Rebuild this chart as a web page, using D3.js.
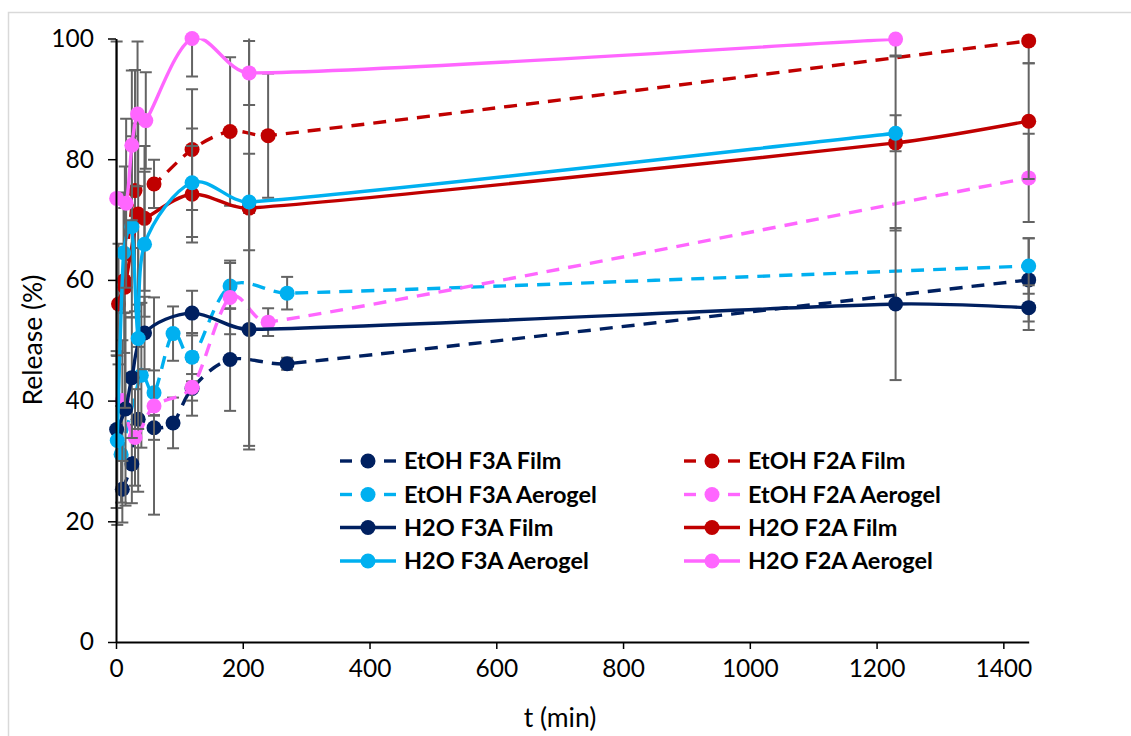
<!DOCTYPE html>
<html>
<head>
<meta charset="utf-8">
<script src="https://cdn.jsdelivr.net/npm/d3@7"></script>
<style>
  body { margin: 0; background: #fff; }
  text { font-family: Lato, "Open Sans", sans-serif; }
</style>
</head>
<body>
<div id="chart"></div>
<script>
"use strict"

// release data, t in minutes, values in %
const tEtohF3aFilm = [10, 25, 35, 60, 90, 120, 180, 270, 1440];
const vEtohF3aFilm = [25.3, 29.5, 36.9, 35.5, 36.3, 42.0, 46.8, 46.1, 60.0];
const eEtohF3aFilm = [5.5, 6.5, 12, 2, 4.2, 4.5, 8.5, 1, 6.9];

const tEtohF2aFilm = [4, 13, 30, 60, 120, 180, 240, 1440];
const vEtohF2aFilm = [56.0, 59.9, 74.8, 75.9, 81.6, 84.6, 83.9, 99.6];
const eEtohF2aFilm = [10, 12, 20, 4, 10, 12.3, 10.3, 3.7];

const tEtohF3aAero = [8, 40, 60, 90, 120, 180, 270, 1440];
const vEtohF3aAero = [31.1, 44.2, 41.3, 51.1, 47.2, 59.0, 57.8, 62.3];
const eEtohF3aAero = [8, 12, 3.7, 4.5, 4, 3.8, 2.7, 4.6];

const tEtohF2aAero = [10, 30, 60, 120, 180, 240, 1440];
const vEtohF2aAero = [40.0, 33.9, 39.1, 42.2, 57.1, 53.0, 76.9];
const eEtohF2aAero = [10, 8, 18, 2.2, 6.1, 2.3, 7.3];

const tH2oF3aFilm = [1, 15, 25, 45, 120, 210, 1230, 1440];
const vH2oF3aFilm = [35.2, 38.6, 43.8, 51.2, 54.5, 51.8, 56.0, 55.4];
const eH2oF3aFilm = [13, 16, 10, 6, 3.7, 19.3, 12.6, 3.7];

const tH2oF2aFilm = [14, 35, 45, 120, 210, 1230, 1440];
const vH2oF2aFilm = [58.8, 70.9, 70.2, 74.2, 71.9, 82.7, 86.3];
const eH2oF2aFilm = [20, 15, 12, 8, 40, 14.5, 9.6];

const tH2oF3aAero = [2, 12, 25, 35, 45, 120, 210, 1230];
const vH2oF3aAero = [33.4, 64.5, 68.8, 50.3, 65.9, 76.1, 72.9, 84.3];
const eH2oF3aAero = [14, 10, 15, 15, 12, 9, 8, 3];

const tH2oF2aAero = [1, 16, 25, 34, 47, 120, 210, 1230];
const vH2oF2aAero = [73.5, 72.7, 82.3, 87.5, 86.4, 100, 94.3, 99.9];
const eH2oF2aAero = [26, 14, 12.4, 12, 8, 6.3, 5.3, 2.9];

const seriesNames = ["EtOH F3A Film", "EtOH F2A Film", "EtOH F3A Aerogel", "EtOH F2A Aerogel",
                     "H2O F3A Film", "H2O F2A Film", "H2O F3A Aerogel", "H2O F2A Aerogel"];
const xTicks = [0, 200, 400, 600, 800, 1000, 1200, 1400];
const yTicks = [0, 20, 40, 60, 80, 100];

const colorByName = new Map([
  ["EtOH F3A Film", "#002060"],
  ["EtOH F2A Film", "#C00000"],
  ["EtOH F3A Aerogel", "#00B0F0"],
  ["EtOH F2A Aerogel", "#FF66FF"],
  ["H2O F3A Film", "#002060"],
  ["H2O F2A Film", "#C00000"],
  ["H2O F3A Aerogel", "#00B0F0"],
  ["H2O F2A Aerogel", "#FF66FF"]
]);

const seriesData = [
  [tEtohF3aFilm, vEtohF3aFilm, eEtohF3aFilm],
  [tEtohF2aFilm, vEtohF2aFilm, eEtohF2aFilm],
  [tEtohF3aAero, vEtohF3aAero, eEtohF3aAero],
  [tEtohF2aAero, vEtohF2aAero, eEtohF2aAero],
  [tH2oF3aFilm, vH2oF3aFilm, eH2oF3aFilm],
  [tH2oF2aFilm, vH2oF2aFilm, eH2oF2aFilm],
  [tH2oF3aAero, vH2oF3aAero, eH2oF3aAero],
  [tH2oF2aAero, vH2oF2aAero, eH2oF2aAero]
];

let series = seriesNames.map(function(name, i) {
  let [ts, vs, es] = seriesData[i];
  return {
    name: name,
    color: colorByName.get(name),
    dashed: name.startsWith("EtOH"),
    points: ts.map((t, j) => ({t: t, v: vs[j], e: es[j]}))
  };
});

let width = 1131, height = 736;
let plot = {left: 116, right: 1028.7, top: 38.5, bottom: 642};

let svg = d3.select("#chart")
  .append("svg")
  .attr("width", width)
  .attr("height", height);

// chart area frame
svg.append("rect")
  .attr("x", 8.5).attr("y", 12.5)
  .attr("width", 1200).attr("height", 800)
  .attr("fill", "none")
  .attr("stroke", "#d9d9d9")
  .attr("stroke-width", 1.5);

let x = d3.scaleLinear().domain([0, 1440]).range([plot.left, plot.right]);
let y = d3.scaleLinear().domain([0, 100]).range([plot.bottom, plot.top]);

svg.append("clipPath")
  .attr("id", "plotClip")
  .append("rect")
  .attr("x", plot.left - 20).attr("y", plot.top)
  .attr("width", plot.right - plot.left + 40)
  .attr("height", plot.bottom - plot.top);

// excel-like smoothed line: catmull-rom tangents, shortened on short segments
function smoothPath(points) {
  let p = points.map(d => [x(d.t), y(d.v)]);
  let n = p.length;
  let tan = p.map(function(pt, i) {
    let a = p[Math.max(i - 1, 0)], b = p[Math.min(i + 1, n - 1)];
    return [(b[0] - a[0]) / 6, (b[1] - a[1]) / 6];
  });
  let clamp = function(v, maxLen) {
    let len = Math.hypot(v[0], v[1]);
    if (len <= maxLen || len === 0) return v;
    return [v[0] * maxLen / len, v[1] * maxLen / len];
  };
  let path = d3.path();
  path.moveTo(p[0][0], p[0][1]);
  for (let i = 0; i < n - 1; i++) {
    let seg = Math.hypot(p[i + 1][0] - p[i][0], p[i + 1][1] - p[i][1]);
    let t1 = clamp(tan[i], seg / 3), t2 = clamp(tan[i + 1], seg / 3);
    path.bezierCurveTo(p[i][0] + t1[0], p[i][1] + t1[1],
                       p[i + 1][0] - t2[0], p[i + 1][1] - t2[1],
                       p[i + 1][0], p[i + 1][1]);
  }
  return path.toString();
}

series.forEach(function(s) {
  let g = svg.append("g");
  let clipped = g.append("g").attr("clip-path", "url(#plotClip)");

  let bars = clipped.selectAll(".err")
    .data(s.points.filter(p => p.e > 0))
    .enter().append("g")
    .attr("stroke", "#646464")
    .attr("stroke-width", 2);
  bars.append("line")
    .attr("x1", d => x(d.t)).attr("x2", d => x(d.t))
    .attr("y1", d => y(d.v + d.e)).attr("y2", d => y(d.v - d.e));
  bars.append("line")
    .attr("x1", d => x(d.t) - 6).attr("x2", d => x(d.t) + 6)
    .attr("y1", d => y(d.v + d.e)).attr("y2", d => y(d.v + d.e));
  bars.append("line")
    .attr("x1", d => x(d.t) - 6).attr("x2", d => x(d.t) + 6)
    .attr("y1", d => y(d.v - d.e)).attr("y2", d => y(d.v - d.e));

  clipped.append("path")
    .attr("d", smoothPath(s.points))
    .attr("fill", "none")
    .attr("stroke", s.color)
    .attr("stroke-width", 3.4)
    .attr("stroke-dasharray", s.dashed ? "13,9" : null);

  g.selectAll("circle")
    .data(s.points)
    .enter().append("circle")
    .attr("cx", d => x(d.t))
    .attr("cy", d => y(d.v))
    .attr("r", 7.5)
    .attr("fill", s.color);
});

// axes
let xAxis = svg.append("g")
  .attr("transform", "translate(0," + plot.bottom + ")")
  .call(d3.axisBottom(x).tickValues(xTicks).tickFormat(d3.format("d")).tickSizeInner(7).tickSizeOuter(0).tickPadding(11));
let yAxis = svg.append("g")
  .attr("transform", "translate(" + plot.left + ",0)")
  .call(d3.axisLeft(y).tickValues(yTicks).tickSizeInner(8).tickSizeOuter(0).tickPadding(14));

[xAxis, yAxis].forEach(function(a) {
  a.select(".domain").attr("stroke", "#000").attr("stroke-width", 2);
  a.selectAll(".tick line").attr("stroke", "#000").attr("stroke-width", 1.5);
  a.selectAll(".tick text")
    .attr("fill", "#000")
    .style("font-size", "24.5px")
    .style("font-family", "Lato, sans-serif");
});

svg.append("text")
  .attr("x", 560).attr("y", 727)
  .attr("text-anchor", "middle")
  .style("font-size", "26.5px")
  .text("t (min)");

svg.append("text")
  .attr("transform", "translate(42,340) rotate(-90)")
  .attr("text-anchor", "middle")
  .style("font-size", "26.5px")
  .text("Release (%)");

// legend, filled row by row in two columns
let legendCols = [340, 684];
let legendRows = [461, 494.5, 527.5, 561];

let legend = svg.selectAll(".legendItem")
  .data(series)
  .enter().append("g")
  .attr("class", "legendItem")
  .attr("transform", (d, i) => "translate(" + legendCols[i % 2] + "," + legendRows[Math.floor(i / 2)] + ")");

legend.each(function(d) {
  let item = d3.select(this);
  if (d.dashed) {
    item.append("line").attr("x1", 0).attr("x2", 12).attr("y1", 0).attr("y2", 0)
      .attr("stroke", d.color).attr("stroke-width", 3.4);
    item.append("line").attr("x1", 44).attr("x2", 56).attr("y1", 0).attr("y2", 0)
      .attr("stroke", d.color).attr("stroke-width", 3.4);
  } else {
    item.append("line").attr("x1", 0).attr("x2", 56).attr("y1", 0).attr("y2", 0)
      .attr("stroke", d.color).attr("stroke-width", 3.4);
  }
  item.append("circle").attr("cx", 28).attr("cy", 0).attr("r", 7.5).attr("fill", d.color);
  item.append("text")
    .attr("x", 64).attr("y", 0)
    .attr("dy", "0.35em")
    .style("font-size", "23.5px")
    .style("font-weight", "bold")
    .text(d.name);
});
</script>
</body>
</html>
